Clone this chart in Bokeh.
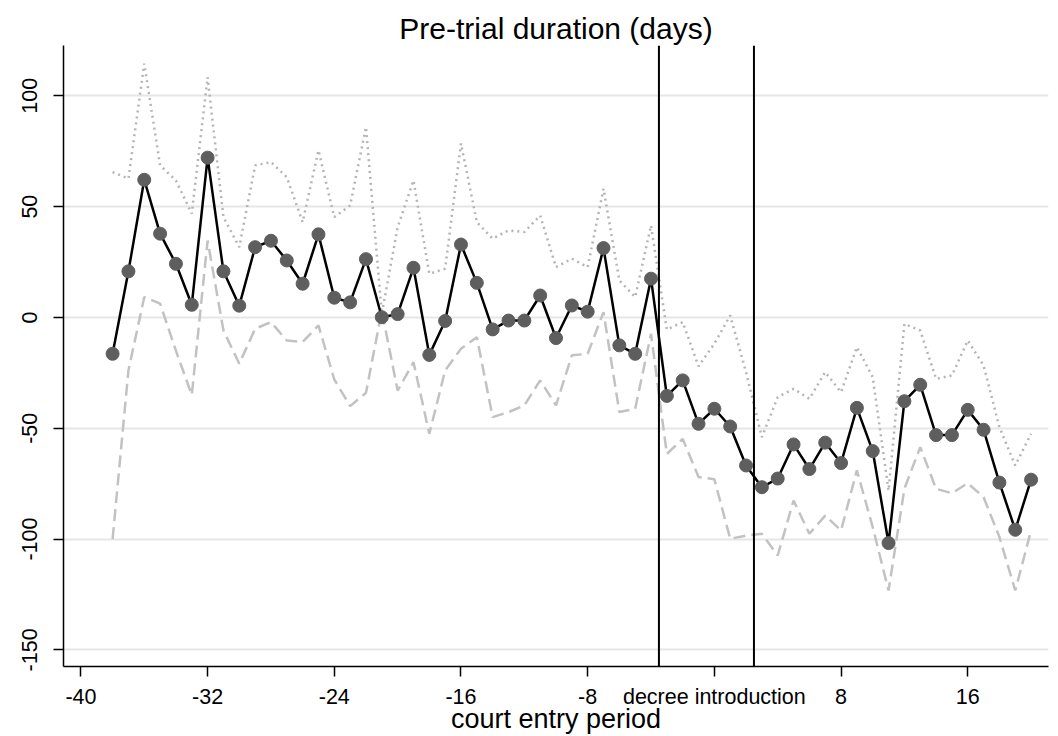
from bokeh.plotting import figure
from bokeh.models import Span, FixedTicker, Range1d, ColumnDataSource
from bokeh.embed import file_html
from bokeh.resources import INLINE

periods = [-38, -37, -36, -35, -34, -33, -32, -31, -30, -29, -28, -27, -26, -25, -24,
           -23, -22, -21, -20, -19, -18, -17, -16, -15, -14, -13, -12, -11, -10, -9,
           -8, -7, -6, -5, -4, -3, -2, -1, 0, 1, 2, 3, 4, 5, 6, 7, 8, 9, 10, 11,
           12, 13, 14, 15, 16, 17, 18, 19, 20]

estimate = [-16.4, 20.8, 62.1, 37.8, 24.2, 5.7, 72.1, 20.8, 5.3, 31.7, 34.6, 25.7, 15.2, 37.5, 8.9,
            6.8, 26.3, 0.1, 1.5, 22.4, -16.9, -1.6, 32.9, 15.6, -5.4, -1.4, -1.4, 9.9, -9.3, 5.4,
            2.6, 31.3, -12.6, -16.4, 17.5, -35.4, -28.4, -48.0, -41.2, -49.2, -66.8, -76.6, -72.7, -57.3, -68.4, -56.5,
            -65.7, -40.8, -60.3, -101.8, -37.8, -30.4, -53.1, -53.1, -41.7, -50.7, -74.5, -95.8, -73.2]

upper = [65.6, 62.6, 114.5, 68.6, 61.8, 46.8, 108.4, 45.3, 31.7, 68.6, 70.1, 63.3, 43.0, 75.4, 45.3,
         50.5, 85.9, 1.7, 40.7, 61.8, 19.7, 22.0, 78.5, 43.0, 35.5, 39.3, 38.5, 46.0, 22.7, 26.5,
         22.7, 58.1, 16.7, 9.2, 41.5, -5.5, -2.1, -22.0, -11.9, 0.9, -24.7, -54.0, -36.0, -32.2, -36.7, -24.7,
         -33.7, -13.4, -26.9, -78.1, -2.9, -5.9, -27.7, -26.2, -10.4, -21.7, -49.5, -66.8, -52.5]

lower = [-100.0, -23.9, 9.2, 6.2, -15.0, -35.0, 34.7, -5.9, -20.9, -5.1, -2.1, -10.4, -11.1, -3.6, -28.0,
         -40.0, -34.0, 3.0, -33.0, -20.2, -52.5, -23.9, -14.1, -8.9, -45.0, -42.7, -39.7, -28.4, -39.7, -17.1,
         -16.4, 2.4, -42.7, -41.2, -7.4, -61.6, -54.8, -72.0, -73.0, -99.9, -98.4, -97.6, -107.4, -82.6, -97.6, -89.4,
         -96.1, -69.0, -94.6, -123.2, -77.3, -58.5, -77.3, -79.3, -74.8, -81.1, -99.1, -123.2, -96.1]

x_ticks = [-40, -32, -24, -16, -8, 0, 8, 16]
x_tick_labels = ["-40", "-32", "-24", "-16", "-8", "decree introduction", "8", "16"]
y_ticks = [-150, -100, -50, 0, 50, 100]
y_tick_labels = ["-150", "-100", "-50", "0", "50", "100"]
event_lines = [-3.5, 2.5]

FONT = "Liberation Sans"

src = ColumnDataSource(dict(x=periods, est=estimate, up=upper, lo=lower))

p = figure(width=1058, height=736, output_backend="svg", toolbar_location=None,
           x_range=Range1d(-41.1, 21.1), y_range=Range1d(-157.5, 122.7),
           min_border_left=63, min_border_right=10, min_border_top=45, min_border_bottom=70,
           title="Pre-trial duration (days)")

p.title.align = "center"
p.title.text_font = FONT
p.title.text_font_size = "30px"
p.title.text_font_style = "normal"
p.title.text_color = "black"
p.title.standoff = 2

p.outline_line_color = None
p.background_fill_color = "white"
p.border_fill_color = "white"

p.xgrid.grid_line_color = None
p.ygrid.grid_line_color = "#e6e6e6"
p.ygrid.grid_line_width = 2
p.ygrid.ticker = FixedTicker(ticks=y_ticks)

p.xaxis.ticker = FixedTicker(ticks=x_ticks)
p.xaxis.major_label_overrides = dict(zip(x_ticks, x_tick_labels))
p.yaxis.ticker = FixedTicker(ticks=y_ticks)
p.yaxis.major_label_overrides = dict(zip(y_ticks, y_tick_labels))
p.yaxis.major_label_orientation = "vertical"

for ax in (p.xaxis[0], p.yaxis[0]):
    ax.axis_line_color = "black"
    ax.axis_line_width = 1.5
    ax.major_tick_line_color = "black"
    ax.major_tick_line_width = 1.5
    ax.major_tick_out = 10
    ax.major_tick_in = 0
    ax.minor_tick_line_color = None
    ax.major_label_text_font = FONT
    ax.major_label_text_font_size = "21.5px"
    ax.major_label_text_color = "black"

p.xaxis.major_label_standoff = 8
p.yaxis.major_label_standoff = 16
p.xaxis.axis_label = "court entry period"
p.xaxis.axis_label_text_font = FONT
p.xaxis.axis_label_text_font_size = "27px"
p.xaxis.axis_label_text_font_style = "normal"
p.xaxis.axis_label_text_color = "black"
p.xaxis.axis_label_standoff = -8

p.line("x", "up", source=src, line_color="#b4b4b4", line_width=2.5, line_dash="2 4")
p.line("x", "lo", source=src, line_color="#c2c2c2", line_width=2.5, line_dash="12 6")
p.line("x", "est", source=src, line_color="black", line_width=2.5)
p.scatter("x", "est", source=src, size=13, fill_color="#5e5e5e", line_color="#5e5e5e")

for xv in event_lines:
    p.add_layout(Span(location=xv, dimension="height", line_color="black", line_width=2))

open("out.html", "w").write(file_html(p, INLINE))
